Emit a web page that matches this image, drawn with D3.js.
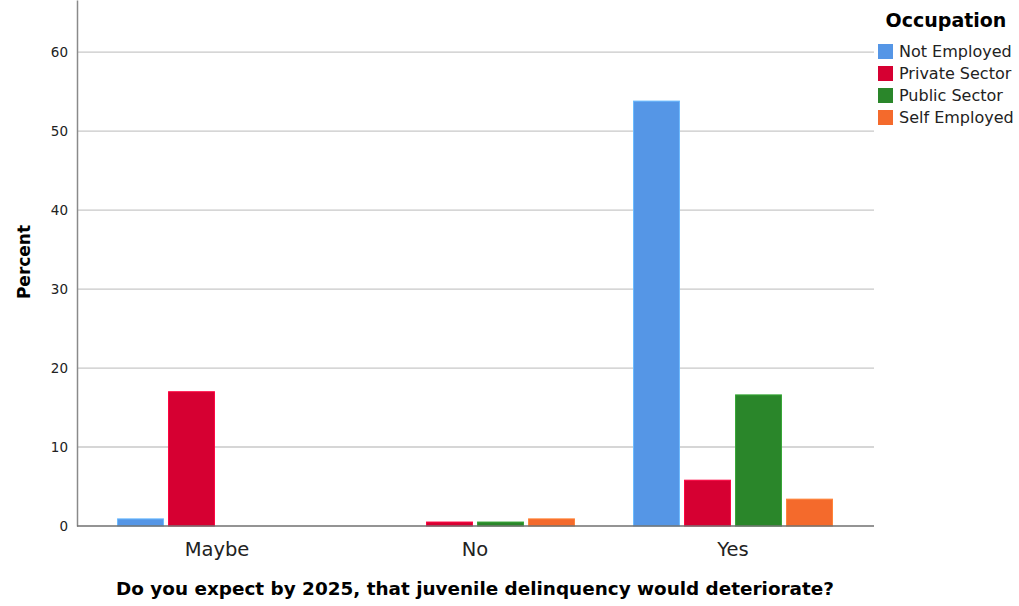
<!DOCTYPE html>
<html><head><meta charset="utf-8">
<script src="https://cdn.jsdelivr.net/npm/d3@7"></script>
<style>body{margin:0;background:#fff}svg{display:block}text{font-family:"DejaVu Sans",Verdana,sans-serif}</style>
</head><body><svg id="c" width="1019" height="606"></svg>
<script>
const categories = ["Maybe", "No", "Yes"];
const seriesNames = ["Not Employed", "Private Sector", "Public Sector", "Self Employed"];
const notEmployed = [0.9, null, 53.8];
const privateSector = [17.0, 0.5, 5.8];
const publicSector = [null, 0.5, 16.6];
const selfEmployed = [null, 0.9, 3.4];
const yTicks = [0, 10, 20, 30, 40, 50, 60];
const colors = ["#5596e6", "#d60032", "#2a862a", "#f46a2c"];
const xTitle = "Do you expect by 2025, that juvenile delinquency would deteriorate?";
const yTitle = "Percent";
const legendTitle = "Occupation";

const series = [notEmployed, privateSector, publicSector, selfEmployed];
const svg = d3.select("#c");
const pLeft = 77, pRight = 874, pTop = 0, pBottom = 526;
const y = d3.scaleLinear().domain([0, 66.6]).range([pBottom, pTop]);
const x = d3.scaleBand().domain(categories).range([88, 862]).paddingInner(0.229).paddingOuter(0.1145);
const xs = d3.scaleBand().domain(seriesNames).range([0, x.bandwidth()]).paddingInner(0.1);

// gridlines
svg.append("g").selectAll("line").data(yTicks.filter(d => d > 0)).join("line")
  .attr("x1", pLeft).attr("x2", pRight).attr("y1", d => y(d)).attr("y2", d => y(d))
  .attr("stroke", "#c8c8c8").attr("stroke-width", 1.3);

// y axis
const yAxis = svg.append("g").attr("transform", `translate(${pLeft},0)`)
  .call(d3.axisLeft(y).tickValues(yTicks).tickSize(0).tickPadding(9));
yAxis.select(".domain").attr("stroke", "#8a8a8a").attr("stroke-width", 1.5);
yAxis.selectAll("text").attr("font-size", 13.5).attr("fill", "#222").attr("font-family", "DejaVu Sans");

// bars
const g = svg.append("g");
series.forEach((vals, si) => {
  g.append("g").selectAll("rect")
    .data(categories.map((c, i) => ({c, v: vals[i]})).filter(d => d.v != null))
    .join("rect")
    .attr("x", d => x(d.c) + xs(seriesNames[si]))
    .attr("width", xs.bandwidth())
    .attr("y", d => y(d.v))
    .attr("height", d => y(0) - y(d.v))
    .attr("fill", colors[si])
    .attr("stroke", d3.color(colors[si]).brighter(0.6))
    .attr("stroke-width", 1);
});

// x axis
svg.append("line").attr("x1", pLeft).attr("x2", pRight).attr("y1", pBottom).attr("y2", pBottom)
  .attr("stroke", "#707070").attr("stroke-width", 1.5);
const xAxis = svg.append("g").attr("transform", `translate(0,${pBottom})`)
  .call(d3.axisBottom(x).tickSize(0).tickPadding(12));
xAxis.select(".domain").remove();
xAxis.selectAll("text").attr("font-size", 19.5).attr("fill", "#222").attr("font-family", "DejaVu Sans")
  .attr("y", 30).attr("dy", 0);

// titles
svg.append("text").attr("x", 475).attr("y", 595).attr("text-anchor", "middle")
  .attr("font-size", 18.4).attr("font-weight", "bold").attr("fill", "#000").text(xTitle);
svg.append("text").attr("transform", "translate(30,262) rotate(-90)").attr("text-anchor", "middle")
  .attr("font-size", 17).attr("font-weight", "bold").attr("fill", "#000").text(yTitle);

// legend
const lg = svg.append("g");
lg.append("text").attr("x", 946).attr("y", 27).attr("text-anchor", "middle")
  .attr("font-size", 19).attr("font-weight", "bold").attr("fill", "#000").text(legendTitle);
const items = lg.selectAll("g.item").data(seriesNames).join("g")
  .attr("transform", (d, i) => `translate(878,${44 + i * 22})`);
items.append("rect").attr("width", 15).attr("height", 15).attr("fill", (d, i) => colors[i]);
items.append("text").attr("x", 21).attr("y", 13).attr("font-size", 16).attr("fill", "#222").text(d => d);
</script></body></html>
